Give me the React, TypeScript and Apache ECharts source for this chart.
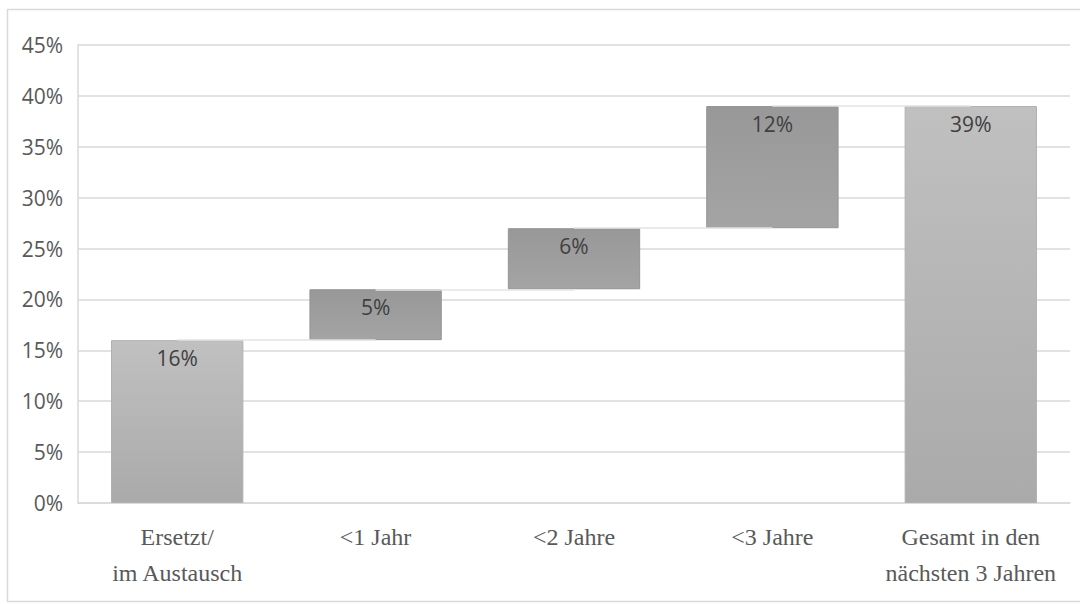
import React, { useEffect, useRef } from "react";
import * as echarts from "echarts";

const categories = [
  "Ersetzt/\nim Austausch",
  "<1 Jahr",
  "<2 Jahre",
  "<3 Jahre",
  "Gesamt in den\nnächsten 3 Jahren",
];
const values = [16, 5, 6, 12, 39];
const isTotal = [false, false, false, false, true];
const yTicks = [0, 5, 10, 15, 20, 25, 30, 35, 40, 45];

export default function App() {
  const ref = useRef<HTMLDivElement>(null);
  useEffect(() => {
    if (!ref.current) return;
    const chart = echarts.init(ref.current, undefined, { renderer: "svg" });

    const bases: number[] = [];
    let run = 0;
    values.forEach((v, i) => {
      if (isTotal[i]) {
        bases.push(0);
      } else {
        bases.push(run);
        run += v;
      }
    });
    const tops = values.map((v, i) => bases[i] + v);

    const light = new echarts.graphic.LinearGradient(0, 0, 0, 1, [
      { offset: 0, color: "#c0c0c0" },
      { offset: 1, color: "#aaaaaa" },
    ]);
    const dark = new echarts.graphic.LinearGradient(0, 0, 0, 1, [
      { offset: 0, color: "#989898" },
      { offset: 1, color: "#a4a4a4" },
    ]);

    const connectors = [] as any[];
    for (let i = 0; i < categories.length - 1; i++) {
      connectors.push([
        { coord: [categories[i], tops[i]] },
        { coord: [categories[i + 1], tops[i]] },
      ]);
    }

    chart.setOption({
      animation: false,
      backgroundColor: "#ffffff",
      graphic: [
        {
          type: "rect",
          shape: { x: 7.5, y: 9.5, width: 1080, height: 592 },
          style: { fill: "none", stroke: "#d9d9d9", lineWidth: 1.5 },
          silent: true,
        },
      ],
      grid: { left: 78, right: 10, top: 45, bottom: 101, containLabel: false },
      xAxis: {
        type: "category",
        data: categories,
        axisLine: { show: true, lineStyle: { color: "#d9d9d9", width: 1.5 } },
        axisTick: { show: false },
        axisLabel: {
          fontFamily: "Liberation Serif",
          fontSize: 24,
          color: "#595959",
          lineHeight: 36,
          margin: 16,
          interval: 0,
        },
      },
      yAxis: {
        type: "value",
        min: 0,
        max: 45,
        interval: 5,
        axisLine: { show: true, lineStyle: { color: "#d9d9d9", width: 1.5 } },
        axisTick: { show: false },
        splitLine: { lineStyle: { color: "#d9d9d9", width: 1.5 } },
        axisLabel: {
          fontFamily: "Open Sans",
          fontSize: 21,
          color: "#595959",
          margin: 15,
          formatter: (v: number) => (yTicks.includes(v) ? v + "%" : ""),
        },
      },
      series: [
        {
          name: "base",
          type: "bar",
          stack: "w",
          data: bases,
          barWidth: "66.7%",
          itemStyle: { color: "transparent" },
          silent: true,
          z: 1,
          markLine: {
            silent: true,
            symbol: "none",
            label: { show: false },
            lineStyle: { color: "#e3e3e3", width: 1.5, type: "solid" },
            data: connectors,
          },
        },
        {
          name: "value",
          type: "bar",
          stack: "w",
          barWidth: "66.7%",
          z: 3,
          data: values.map((v, i) => ({
            value: v,
            itemStyle: {
              color: isTotal[i] || i === 0 ? light : dark,
              borderColor: isTotal[i] || i === 0 ? "#b0b0b0" : "#949494",
              borderWidth: 1,
            },
          })),
          label: {
            show: true,
            position: "insideTop",
            distance: 7,
            fontFamily: "Open Sans",
            fontSize: 21,
            color: "#404040",
            formatter: (p: any) => p.value + "%",
          },
        },
      ],
    });
    return () => chart.dispose();
  }, []);
  return (
    <div
      ref={ref}
      style={{ position: "absolute", left: 0, top: 0, width: 1080, height: 604 }}
    />
  );
}
